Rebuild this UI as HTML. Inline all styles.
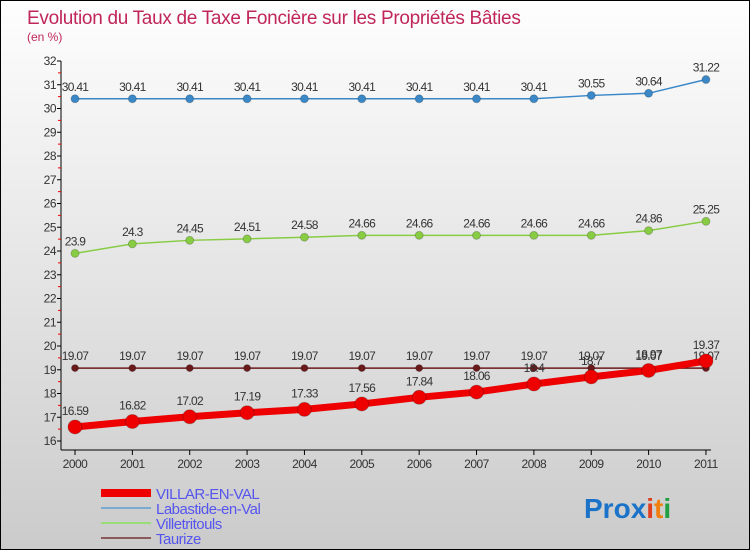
<!DOCTYPE html>
<html><head><meta charset="utf-8"><style>
html,body{margin:0;padding:0}
body{width:750px;height:550px;overflow:hidden;font-family:"Liberation Sans",sans-serif}
#wrap{position:relative;width:748px;height:548px;border:1px solid #000;background:linear-gradient(#fefefe,#cbcbcb)}
svg{position:absolute;left:0;top:0}
</style></head><body>
<div id="wrap">
<svg id="chart" width="748" height="548">
<text x="26" y="23" font-size="19" fill="#c0265a" letter-spacing="-0.3">Evolution du Taux de Taxe Foncière sur les Propriétés Bâties</text>
<text x="26" y="40" font-size="12" fill="#c0265a">(en %)</text>
<g id="axes"></g><g id="series"></g>
<g id="legend" font-size="15" fill="#5555ee"></g>
<text x="583" y="517" font-size="28" font-weight="bold"><tspan fill="#1a73c8">Pro</tspan><tspan fill="#1a73c8">x</tspan><tspan fill="#e04020">i</tspan><tspan fill="#f08010">t</tspan><tspan fill="#20a040">i</tspan></text>
</svg>
</div>
<script>
const years=[2000,2001,2002,2003,2004,2005,2006,2007,2008,2009,2010,2011];
const yTicks=[16,17,18,19,20,21,22,23,24,25,26,27,28,29,30,31,32];
const villar=[16.59,16.82,17.02,17.19,17.33,17.56,17.84,18.06,18.4,18.7,18.97,19.37];
const labastide=[30.41,30.41,30.41,30.41,30.41,30.41,30.41,30.41,30.41,30.55,30.64,31.22];
const villetritouls=[23.9,24.3,24.45,24.51,24.58,24.66,24.66,24.66,24.66,24.66,24.86,25.25];
const taurize=[19.07,19.07,19.07,19.07,19.07,19.07,19.07,19.07,19.07,19.07,19.07,19.07];
const NS="http://www.w3.org/2000/svg";
const X0=74,XS=57.36,Y0=440,YS=23.75,YMIN=16;
function xs(i){return X0+i*XS}
function ys(v){return Y0-(v-YMIN)*YS}
function mk(tag,attrs,parent,text){const e=document.createElementNS(NS,tag);for(const k in attrs)e.setAttribute(k,attrs[k]);if(text!==undefined)e.textContent=text;parent.appendChild(e);return e}
const axes=document.getElementById('axes');
let a=mk('line',{x1:60,y1:ys(32),x2:60,y2:449,stroke:'#000'},axes);


a=mk('line',{x1:60,y1:449,x2:xs(11)+5,y2:449,stroke:'#000'},axes);


yTicks.forEach(v=>{
  mk('line',{x1:56,y1:ys(v),x2:60,y2:ys(v),stroke:'#000'},axes);
  if(v<32)mk('line',{x1:57,y1:ys(v+0.5),x2:60,y2:ys(v+0.5),stroke:'#e00'},axes);
  const t=mk('text',{x:55,y:ys(v)+4,'text-anchor':'end','font-size':12,fill:'#333','letter-spacing':'-0.5'},axes,String(v));
  
  
});
years.forEach((y,i)=>{
  mk('line',{x1:xs(i),y1:449,x2:xs(i),y2:454,stroke:'#000'},axes);
  const t=mk('text',{x:xs(i),y:467,'text-anchor':'middle','font-size':12,fill:'#333','letter-spacing':'-0.5'},axes,String(y));
  
  
});
const ser=document.getElementById('series');
function draw(vals,color,w,r,name,lblOff){
  const g=mk('g',{},ser);
  
  
  const pts=vals.map((v,i)=>xs(i)+','+ys(v)).join(' ');
  mk('polyline',{points:pts,fill:'none',stroke:color,'stroke-width':w},g);
  vals.forEach((v,i)=>{
    const c=mk('circle',{cx:xs(i),cy:ys(v),r:r,fill:color,stroke:'rgba(0,0,0,0.2)'},g);
    
    
    const t=mk('text',{x:xs(i),y:ys(v)-lblOff,'text-anchor':'middle','font-size':12,fill:'#333','letter-spacing':'-0.7'},g,String(v));
    
    
  });
}
draw(labastide,'#3a88c8',1.5,4,'labastide',8);
draw(villetritouls,'#88cc44',1.5,4,'villetritouls',8);
draw(taurize,'#6a1a1a',1.5,3.5,'taurize',8);
draw(villar,'#ee0000',7,7,'villar',12);
const leg=document.getElementById('legend');
const legItems=[['VILLAR-EN-VAL','#ee0000',8],['Labastide-en-Val','#7aaad0',2],['Villetritouls','#99dd77',2],['Taurize','#8a5a5a',2]];
legItems.forEach((it,i)=>{
  const y=492+i*15;
  const g=mk('g',{},leg);
  
  
  mk('line',{x1:100,y1:y,x2:150,y2:y,stroke:it[1],'stroke-width':it[2]},g);
  mk('text',{x:155,y:y+6,'letter-spacing':'-0.5'},g,it[0]);
});
</script>
</body></html>
